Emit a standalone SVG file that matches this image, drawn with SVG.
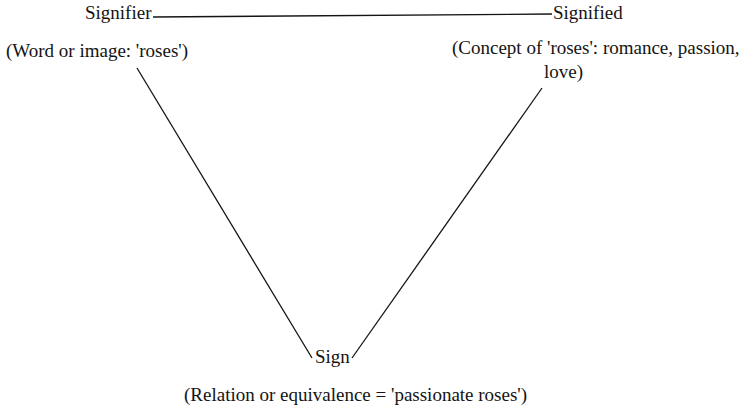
<svg xmlns="http://www.w3.org/2000/svg" width="748" height="415" viewBox="0 0 748 415">
<style>
text{font-family:'Liberation Serif','Times New Roman',Times,serif;font-size:19px;fill:#141414}
.c line{stroke:#141414;stroke-width:1.3}
</style>
<rect width="748" height="415" fill="#fff"/>
<g id="signifier"><text x="85" y="19">Signifier</text><text x="6" y="57">(Word or image: 'roses')</text></g>
<g id="signified"><text x="553" y="19">Signified</text><text x="452" y="54">(Concept of 'roses': romance, passion,</text><text x="544" y="78">love)</text></g>
<g id="sign"><text x="315" y="363">Sign</text><text x="184" y="401">(Relation or equivalence = 'passionate roses')</text></g>
<g class="c" id="connectors">
<line x1="153" y1="17" x2="552" y2="14"/>
<line x1="137" y1="68" x2="312" y2="358"/>
<line x1="352" y1="358" x2="542" y2="88"/>
</g>
</svg>
